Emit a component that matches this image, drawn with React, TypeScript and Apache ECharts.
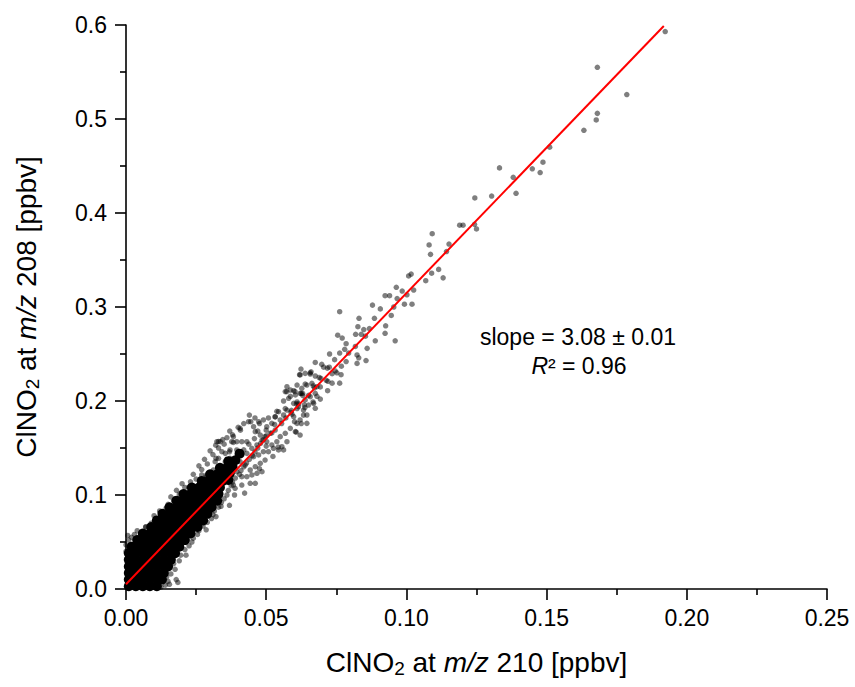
import React, { useEffect, useRef } from 'react';
import * as echarts from 'echarts';

// ClNO2 at m/z 210 vs m/z 208 (ppbv)
// dense core of the cloud near the origin, row by row (drawn with larger marks)
const densePoints: number[][] = [
  [0.001, 0.003], [0.0035, 0.003], [0.006, 0.003], [0.0085, 0.003], [0.011, 0.003],
  [0.001, 0.010], [0.0035, 0.010], [0.006, 0.010], [0.0085, 0.010], [0.011, 0.010], [0.0128, 0.010],
  [0.001, 0.017], [0.0035, 0.017], [0.006, 0.017], [0.0085, 0.017], [0.011, 0.017], [0.0135, 0.017],
  [0.001, 0.024], [0.0035, 0.024], [0.006, 0.024], [0.0085, 0.024], [0.011, 0.024], [0.0135, 0.024], [0.015, 0.024],
  [0.001, 0.031], [0.0035, 0.031], [0.006, 0.031], [0.0085, 0.031], [0.011, 0.031], [0.0135, 0.031], [0.016, 0.031],
  [0.001, 0.038], [0.0035, 0.038], [0.006, 0.038], [0.0085, 0.038], [0.011, 0.038], [0.0135, 0.038], [0.016, 0.038], [0.0175, 0.038],
  [0.002, 0.045], [0.0045, 0.045], [0.007, 0.045], [0.0095, 0.045], [0.012, 0.045], [0.0145, 0.045], [0.017, 0.045], [0.019, 0.045],
  [0.004, 0.052], [0.0065, 0.052], [0.009, 0.052], [0.0115, 0.052], [0.014, 0.052], [0.0165, 0.052], [0.019, 0.052], [0.021, 0.052],
  [0.006, 0.059], [0.0085, 0.059], [0.011, 0.059], [0.0135, 0.059], [0.016, 0.059], [0.0185, 0.059], [0.021, 0.059], [0.023, 0.059],
  [0.009, 0.066], [0.0115, 0.066], [0.014, 0.066], [0.0165, 0.066], [0.019, 0.066], [0.0215, 0.066], [0.024, 0.066], [0.0255, 0.066],
  [0.011, 0.073], [0.0135, 0.073], [0.016, 0.073], [0.0185, 0.073], [0.021, 0.073], [0.0235, 0.073], [0.026, 0.073], [0.0275, 0.073],
  [0.013, 0.080], [0.0155, 0.080], [0.018, 0.080], [0.0205, 0.080], [0.023, 0.080], [0.0255, 0.080], [0.028, 0.080], [0.029, 0.080],
  [0.0155, 0.087], [0.018, 0.087], [0.0205, 0.087], [0.023, 0.087], [0.0255, 0.087], [0.028, 0.087], [0.0305, 0.087],
  [0.018, 0.094], [0.0205, 0.094], [0.023, 0.094], [0.0255, 0.094], [0.028, 0.094], [0.0305, 0.094], [0.0325, 0.094],
  [0.0205, 0.101], [0.023, 0.101], [0.0255, 0.101], [0.028, 0.101], [0.0305, 0.101], [0.033, 0.101],
  [0.0235, 0.108], [0.026, 0.108], [0.0285, 0.108], [0.031, 0.108], [0.0335, 0.108],
  [0.027, 0.115], [0.0295, 0.115], [0.032, 0.115], [0.0345, 0.115], [0.0365, 0.116],
  [0.030, 0.122], [0.0325, 0.122], [0.035, 0.122], [0.037, 0.123],
  [0.0335, 0.129], [0.036, 0.129], [0.038, 0.130],
  [0.0365, 0.136], [0.039, 0.137],
  [0.0405, 0.144],
];

// fringe of the cloud and the sparse points further out
const scatterPoints: number[][] = [
  // upper edge of the band
  [0.000, 0.040], [0.000, 0.047], [0.001, 0.052], [0.0006, 0.057], [0.002, 0.055], [0.003, 0.058], [0.005, 0.056],
  [0.004, 0.062], [0.007, 0.066], [0.006, 0.060], [0.009, 0.070], [0.0071, 0.066], [0.011, 0.074], [0.010, 0.078],
  [0.013, 0.080], [0.0143, 0.086], [0.012, 0.083], [0.015, 0.090], [0.017, 0.094], [0.016, 0.098], [0.019, 0.101],
  [0.018, 0.105], [0.021, 0.108], [0.0224, 0.108], [0.020, 0.112], [0.023, 0.114], [0.025, 0.117], [0.024, 0.122],
  [0.0286, 0.121], [0.027, 0.127], [0.026, 0.131], [0.029, 0.133], [0.028, 0.138], [0.0321, 0.139], [0.031, 0.143],
  [0.030, 0.147], [0.0369, 0.146], [0.033, 0.150], [0.032, 0.153], [0.035, 0.154], [0.0330, 0.157], [0.0345, 0.159],
  [0.0383, 0.156], [0.036, 0.161], [0.038, 0.164], [0.0408, 0.169], [0.037, 0.168], [0.040, 0.172], [0.0445, 0.178],
  [0.042, 0.176], [0.0476, 0.176], [0.046, 0.182], [0.044, 0.185],
  // lower edge of the band
  [0.0125, 0.002], [0.014, 0.004], [0.0135, 0.009], [0.015, 0.008], [0.0155, 0.005], [0.0179, 0.010], [0.0185, 0.007],
  [0.0145, 0.013], [0.016, 0.016], [0.0175, 0.021], [0.017, 0.027], [0.019, 0.030], [0.0195, 0.036], [0.0214, 0.036],
  [0.021, 0.042], [0.0225, 0.046], [0.0235, 0.050], [0.024, 0.054], [0.0255, 0.058], [0.026, 0.062], [0.0275, 0.067],
  [0.0286, 0.063], [0.029, 0.071], [0.0305, 0.075], [0.031, 0.079], [0.0321, 0.077], [0.0315, 0.083], [0.033, 0.087],
  [0.0339, 0.088], [0.034, 0.092], [0.0369, 0.089], [0.035, 0.096], [0.036, 0.100], [0.0387, 0.100], [0.0365, 0.105],
  [0.0423, 0.102], [0.0375, 0.110], [0.038, 0.114], [0.039, 0.118], [0.0405, 0.122], [0.041, 0.126], [0.0476, 0.128],
  [0.042, 0.130], [0.043, 0.134], [0.044, 0.138], [0.0524, 0.141], [0.045, 0.142], [0.046, 0.146], [0.047, 0.150],
  [0.0543, 0.151], [0.050, 0.152], [0.048, 0.155], [0.049, 0.159], [0.050, 0.163], [0.052, 0.166],
  // middle stretch, 0.03 to 0.07
  [0.0621, 0.2277], [0.0639, 0.2294], [0.0657, 0.2287], [0.0675, 0.2266], [0.0663, 0.2188], [0.0645, 0.2170],
  [0.0627, 0.2135], [0.0610, 0.2170], [0.0681, 0.2152], [0.0675, 0.2082], [0.0657, 0.2046], [0.0639, 0.2011],
  [0.0621, 0.2082], [0.0604, 0.2064], [0.0586, 0.2117], [0.0574, 0.2152], [0.0580, 0.2029], [0.0598, 0.1975],
  [0.0615, 0.1940], [0.0633, 0.1904], [0.0651, 0.1957], [0.0669, 0.1975], [0.0675, 0.1922], [0.0645, 0.1851],
  [0.0621, 0.1798], [0.0610, 0.1762], [0.0598, 0.1833], [0.0574, 0.1904], [0.0562, 0.1851], [0.0550, 0.1798],
  [0.0544, 0.1886], [0.0532, 0.1833], [0.0520, 0.1762], [0.0502, 0.1727], [0.0490, 0.1798], [0.0473, 0.1780],
  [0.0455, 0.1727], [0.0437, 0.1780], [0.0461, 0.1674], [0.0479, 0.1638], [0.0496, 0.1621], [0.0514, 0.1656],
  [0.0532, 0.1691], [0.0550, 0.1621], [0.0568, 0.1656], [0.0586, 0.1709], [0.0604, 0.1674], [0.0621, 0.1638],
  [0.0645, 0.1762], [0.0574, 0.1567], [0.0556, 0.1514], [0.0538, 0.1567], [0.0520, 0.1532], [0.0502, 0.1567],
  [0.0485, 0.1585], [0.0467, 0.1532], [0.0449, 0.1497], [0.0431, 0.1567], [0.0413, 0.1567], [0.0395, 0.1567],
  [0.0377, 0.1567], [0.0383, 0.1621], [0.0407, 0.1709], [0.0371, 0.1479], [0.0354, 0.1443], [0.0336, 0.1567],
  [0.0324, 0.1567], [0.0342, 0.1461], [0.0395, 0.1479], [0.0413, 0.1426], [0.0431, 0.1443], [0.0455, 0.1408],
  [0.0473, 0.1426], [0.0490, 0.1461], [0.0508, 0.1461], [0.0526, 0.1497], [0.0544, 0.1479], [0.0562, 0.1479],
  [0.0496, 0.1372], [0.0479, 0.1337], [0.0461, 0.1301], [0.0443, 0.1266], [0.0425, 0.1319], [0.0407, 0.1354],
  [0.0389, 0.1372], [0.0371, 0.1390], [0.0354, 0.1354], [0.0330, 0.1390], [0.0318, 0.1354], [0.0312, 0.1266],
  [0.0336, 0.1266], [0.0360, 0.1266], [0.0377, 0.1231], [0.0395, 0.1248], [0.0413, 0.1195], [0.0431, 0.1195],
  [0.0449, 0.1213], [0.0467, 0.1231], [0.0485, 0.1248], [0.0288, 0.1195], [0.0270, 0.1213], [0.0300, 0.1141],
  [0.0330, 0.1160], [0.0365, 0.1160], [0.0383, 0.1106], [0.0413, 0.1106], [0.0443, 0.1124], [0.0461, 0.1124],
  [0.0389, 0.1071], [0.0420, 0.1480], [0.0438, 0.1540], [0.0458, 0.1600], [0.0470, 0.1680], [0.0500, 0.1690],
  [0.0530, 0.1750], [0.0555, 0.1760], [0.0570, 0.1820], [0.0590, 0.1900], [0.0610, 0.1990], [0.0630, 0.2060],
  // sparse upper part
  [0.1923, 0.593], [0.1681, 0.555], [0.1786, 0.526], [0.1681, 0.506], [0.1677, 0.499], [0.1633, 0.488], [0.1511, 0.470],
  [0.1487, 0.454], [0.1477, 0.443], [0.1449, 0.447], [0.1381, 0.438], [0.1391, 0.421], [0.1332, 0.448], [0.1304, 0.418],
  [0.1244, 0.416], [0.1243, 0.388], [0.1250, 0.383], [0.1190, 0.387], [0.1202, 0.387], [0.1092, 0.378], [0.1081, 0.366],
  [0.1152, 0.367], [0.1086, 0.356], [0.1143, 0.359], [0.1115, 0.340], [0.1090, 0.336], [0.1131, 0.331], [0.1069, 0.328],
  [0.1008, 0.333], [0.1017, 0.335], [0.0964, 0.321], [0.1026, 0.318], [0.1002, 0.313], [0.0985, 0.317], [0.0924, 0.312],
  [0.0940, 0.312], [0.0967, 0.309], [0.0993, 0.303], [0.1020, 0.303], [0.0955, 0.300], [0.0879, 0.302], [0.0907, 0.298],
  [0.0762, 0.295], [0.0946, 0.291], [0.0886, 0.288], [0.0831, 0.288], [0.0926, 0.280], [0.0827, 0.279], [0.0848, 0.276],
  [0.0868, 0.277], [0.0819, 0.271], [0.0839, 0.271], [0.0854, 0.269], [0.0924, 0.272], [0.0889, 0.264], [0.0960, 0.264],
  [0.0755, 0.270], [0.0771, 0.267], [0.0785, 0.261], [0.0780, 0.255], [0.0818, 0.258], [0.0860, 0.256], [0.0794, 0.251],
  [0.0824, 0.249], [0.0830, 0.246], [0.0726, 0.250], [0.0762, 0.251], [0.0744, 0.244], [0.0824, 0.240], [0.0856, 0.243],
  [0.0785, 0.242], [0.0768, 0.237], [0.0698, 0.239], [0.0705, 0.236], [0.0675, 0.241], [0.0718, 0.235], [0.0725, 0.236],
  [0.0746, 0.232], [0.0752, 0.230], [0.0735, 0.229], [0.0767, 0.228], [0.0624, 0.234], [0.0657, 0.230], [0.0660, 0.231],
  [0.0619, 0.228], [0.0689, 0.225], [0.0695, 0.224], [0.0714, 0.222], [0.0720, 0.221], [0.0735, 0.219], [0.0762, 0.219],
  [0.0639, 0.218], [0.0668, 0.216], [0.0672, 0.214], [0.0693, 0.215], [0.0719, 0.211], [0.0568, 0.210], [0.0573, 0.210],
  [0.0598, 0.211], [0.0603, 0.210], [0.0625, 0.208], [0.0630, 0.208], [0.0651, 0.206], [0.0681, 0.205], [0.0586, 0.205],
  [0.0693, 0.202], [0.0667, 0.199], [0.0562, 0.200], [0.0608, 0.197], [0.0615, 0.197], [0.0636, 0.196], [0.0638, 0.193],
  [0.0610, 0.192], [0.0538, 0.189], [0.0568, 0.192], [0.0592, 0.186], [0.0588, 0.188], [0.0532, 0.183], [0.0633, 0.185],
  [0.0508, 0.182], [0.0601, 0.178], [0.0625, 0.176], [0.0607, 0.167],
];

// linear fit, slope = 3.08
const fitLine: number[][] = [
  [0, 0.005],
  [0.1918, 0.599],
];

const slopeText = 'slope = 3.08 ± 0.01';
const r2Text = '= 0.96';

const FONT = 'Liberation Sans, Arial, sans-serif';

const App: React.FC = () => {
  const chartRef = useRef<HTMLDivElement>(null);

  useEffect(() => {
    document.body.style.margin = '0';
    if (!chartRef.current) return;
    const chart = echarts.init(chartRef.current, null, { renderer: 'svg' });

    const axisCommon = {
      type: 'value' as const,
      nameLocation: 'middle' as const,
      splitLine: { show: false },
      axisLine: { show: true, onZero: false, lineStyle: { color: '#000', width: 1.6 } },
      axisTick: { show: true, inside: false, length: 11, lineStyle: { color: '#000', width: 1.6 } },
      minorTick: { show: true, splitNumber: 2, length: 6, lineStyle: { color: '#000', width: 1.6 } },
    };

    const nameRich = {
      sub: { fontSize: 19, fontFamily: FONT, color: '#000', verticalAlign: 'bottom' as const, padding: [12, 0, 0, 0] },
      it: { fontSize: 28, fontFamily: FONT, color: '#000', fontStyle: 'italic' as const },
    };

    chart.setOption({
      animation: false,
      backgroundColor: '#fff',
      grid: { left: 126, right: 28, top: 25, bottom: 98, containLabel: false },
      xAxis: {
        ...axisCommon,
        min: 0,
        max: 0.25,
        interval: 0.05,
        name: 'ClNO{sub|2} at {it|m/z} 210 [ppbv]',
        nameGap: 58,
        nameTextStyle: { fontSize: 28, fontFamily: FONT, color: '#000', rich: nameRich },
        axisLabel: {
          margin: 17,
          fontSize: 23,
          fontFamily: FONT,
          color: '#000',
          formatter: (v: number) => v.toFixed(2),
        },
      },
      yAxis: {
        ...axisCommon,
        min: 0,
        max: 0.6,
        interval: 0.1,
        name: 'ClNO{sub|2} at {it|m/z} 208 [ppbv]',
        nameGap: 84,
        nameRotate: 90,
        nameTextStyle: { fontSize: 28, fontFamily: FONT, color: '#000', rich: nameRich },
        axisLabel: {
          margin: 19,
          fontSize: 23,
          fontFamily: FONT,
          color: '#000',
          formatter: (v: number) => v.toFixed(1),
        },
      },
      graphic: [
        {
          type: 'text',
          x: 578,
          y: 337,
          style: {
            text: slopeText,
            font: `23px ${FONT}`,
            fill: '#000',
            align: 'center',
            verticalAlign: 'middle',
          },
        },
        {
          type: 'text',
          x: 579,
          y: 366,
          style: {
            text: `{i|R}² ${r2Text}`,
            font: `23px ${FONT}`,
            fill: '#000',
            align: 'center',
            verticalAlign: 'middle',
            rich: {
              i: { fontSize: 23, fontFamily: FONT, fontStyle: 'italic', fill: '#000' },
            },
          },
        },
      ],
      series: [
        {
          type: 'scatter',
          data: densePoints,
          symbolSize: 10,
          itemStyle: { color: '#000', opacity: 1 },
          silent: true,
          z: 2,
        },
        {
          type: 'scatter',
          data: scatterPoints,
          symbolSize: 5.5,
          itemStyle: { color: '#000', opacity: 0.5 },
          silent: true,
          z: 3,
        },
        {
          type: 'line',
          data: fitLine,
          symbol: 'none',
          lineStyle: { color: '#ff0000', width: 2 },
          silent: true,
          z: 4,
        },
      ],
    });

    const handleResize = () => chart.resize();
    window.addEventListener('resize', handleResize);
    return () => {
      window.removeEventListener('resize', handleResize);
      chart.dispose();
    };
  }, []);

  return <div ref={chartRef} style={{ width: 855, height: 687 }} />;
};

export default App;
